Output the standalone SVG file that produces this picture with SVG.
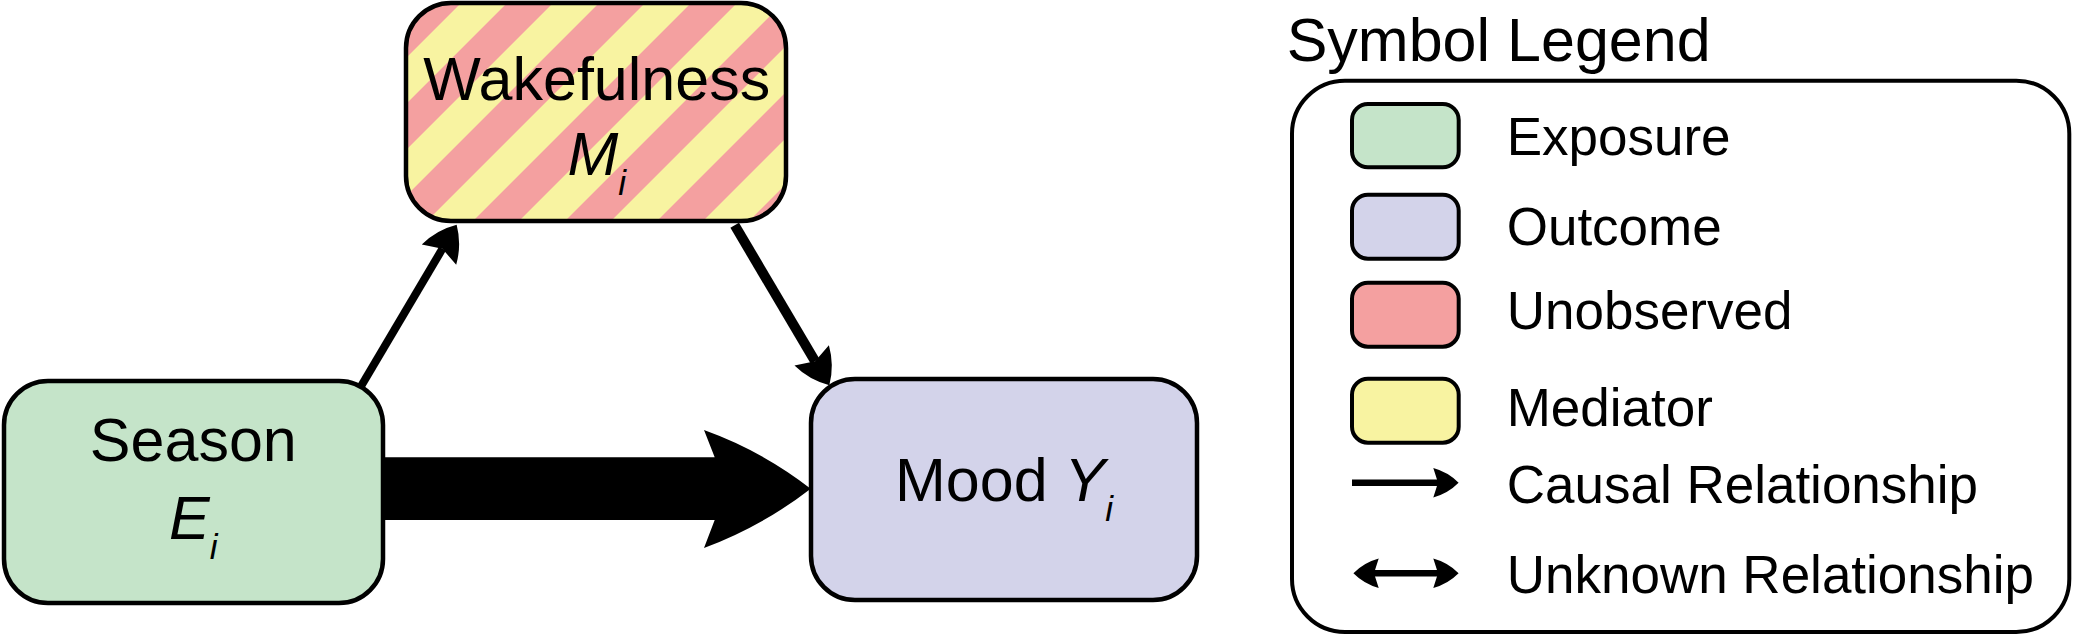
<svg xmlns="http://www.w3.org/2000/svg" width="2077" height="635" viewBox="0 0 2077 635">
<style>
.node{stroke:#000;stroke-width:4.5}
.sw{stroke:#000;stroke-width:4}
.t{font-family:"Liberation Sans",Arial,sans-serif;fill:#000}
.nt{font-size:61px;text-anchor:middle}
.sub{font-size:35px;font-style:italic}
.lt{font-size:53px}
.it{font-style:italic}
.edge{stroke:#000;fill:none}
.ledge{stroke:#000;stroke-width:6.5;fill:none}
</style>
<defs>
<pattern id="stripes" patternUnits="userSpaceOnUse" x="2.9" y="0" width="65.05" height="10" patternTransform="rotate(45)">
<rect x="0" y="0" width="32.53" height="10" fill="#f8f3a1"/>
<rect x="32.53" y="0" width="32.53" height="10" fill="#f4a0a0"/>
</pattern>
<marker id="head" markerUnits="userSpaceOnUse" orient="auto" refX="6.7" refY="0" markerWidth="36" markerHeight="42" overflow="visible">
<path d="M34.7,0 Q20,-14.7 0,-20 L6.7,0 L0,20 Q20,14.7 34.7,0 Z" fill="#000"/>
</marker>
<marker id="lhead" markerUnits="userSpaceOnUse" orient="auto-start-reverse" refX="4.7" refY="0" markerWidth="26" markerHeight="30" overflow="visible">
<path d="M25.3,0 Q14.7,-10.7 0,-14.7 L4.7,0 L0,14.7 Q14.7,10.7 25.3,0 Z" fill="#000"/>
</marker>
</defs>
<g id="connectors">
<line class="edge" stroke-width="8" x1="360" y1="388" x2="442.4" y2="248.8" marker-end="url(#head)"/>
<line class="edge" stroke-width="10" x1="734.7" y1="225.3" x2="815.1" y2="361.2" marker-end="url(#head)"/>
<path id="thick-arrow" d="M382.7,457.3 L714.7,457.3 L704,430 Q761.9,450.8 810.7,488.7 Q761.9,526.5 704,548 L714.7,520 L382.7,520 Z" fill="#000"/>
</g>
<g id="node-season">
<rect class="node" x="4" y="381" width="379" height="222" rx="44" fill="#c5e4c9"/>
<text class="t nt" x="193.3" y="461.3">Season</text>
<text class="t nt" x="193.3" y="538.7"><tspan class="it">E</tspan><tspan class="sub" dy="20">i</tspan></text>
</g>
<g id="node-wakefulness">
<rect class="node" x="406" y="3" width="380" height="218" rx="45" fill="url(#stripes)"/>
<text class="t nt" x="596.7" y="100">Wakefulness</text>
<text class="t nt" x="596.7" y="174.7"><tspan class="it">M</tspan><tspan class="sub" dy="20">i</tspan></text>
</g>
<g id="node-mood">
<rect class="node" x="811" y="379" width="386" height="221" rx="44" fill="#d3d3ea"/>
<text class="t nt" x="1004" y="501.3">Mood <tspan class="it">Y</tspan><tspan class="sub" dy="20">i</tspan></text>
</g>
<g id="legend">
<text class="t" x="1286.7" y="61.3" font-size="61">Symbol Legend</text>
<rect x="1292" y="80.7" width="777.3" height="551.3" rx="53" fill="#fff" stroke="#000" stroke-width="4"/>
<rect class="sw" x="1352" y="104" width="106.7" height="63.3" rx="16" fill="#c5e4c9"/>
<text class="t lt" x="1506.7" y="154.7">Exposure</text>
<rect class="sw" x="1352" y="194.7" width="106.7" height="64" rx="16" fill="#d3d3ea"/>
<text class="t lt" x="1506.7" y="245.3">Outcome</text>
<rect class="sw" x="1352" y="282.7" width="106.7" height="64" rx="16" fill="#f4a0a0"/>
<text class="t lt" x="1506.7" y="329.3">Unobserved</text>
<rect class="sw" x="1352" y="378.7" width="106.7" height="64" rx="16" fill="#f8f3a1"/>
<text class="t lt" x="1506.7" y="426">Mediator</text>
<line class="ledge" x1="1352" y1="482.7" x2="1438" y2="482.7" marker-end="url(#lhead)"/>
<text class="t lt" x="1506.7" y="502.7">Causal Relationship</text>
<line class="ledge" x1="1374" y1="573.3" x2="1438" y2="573.3" marker-start="url(#lhead)" marker-end="url(#lhead)"/>
<text class="t lt" x="1506.7" y="593.3">Unknown Relationship</text>
</g>
</svg>
